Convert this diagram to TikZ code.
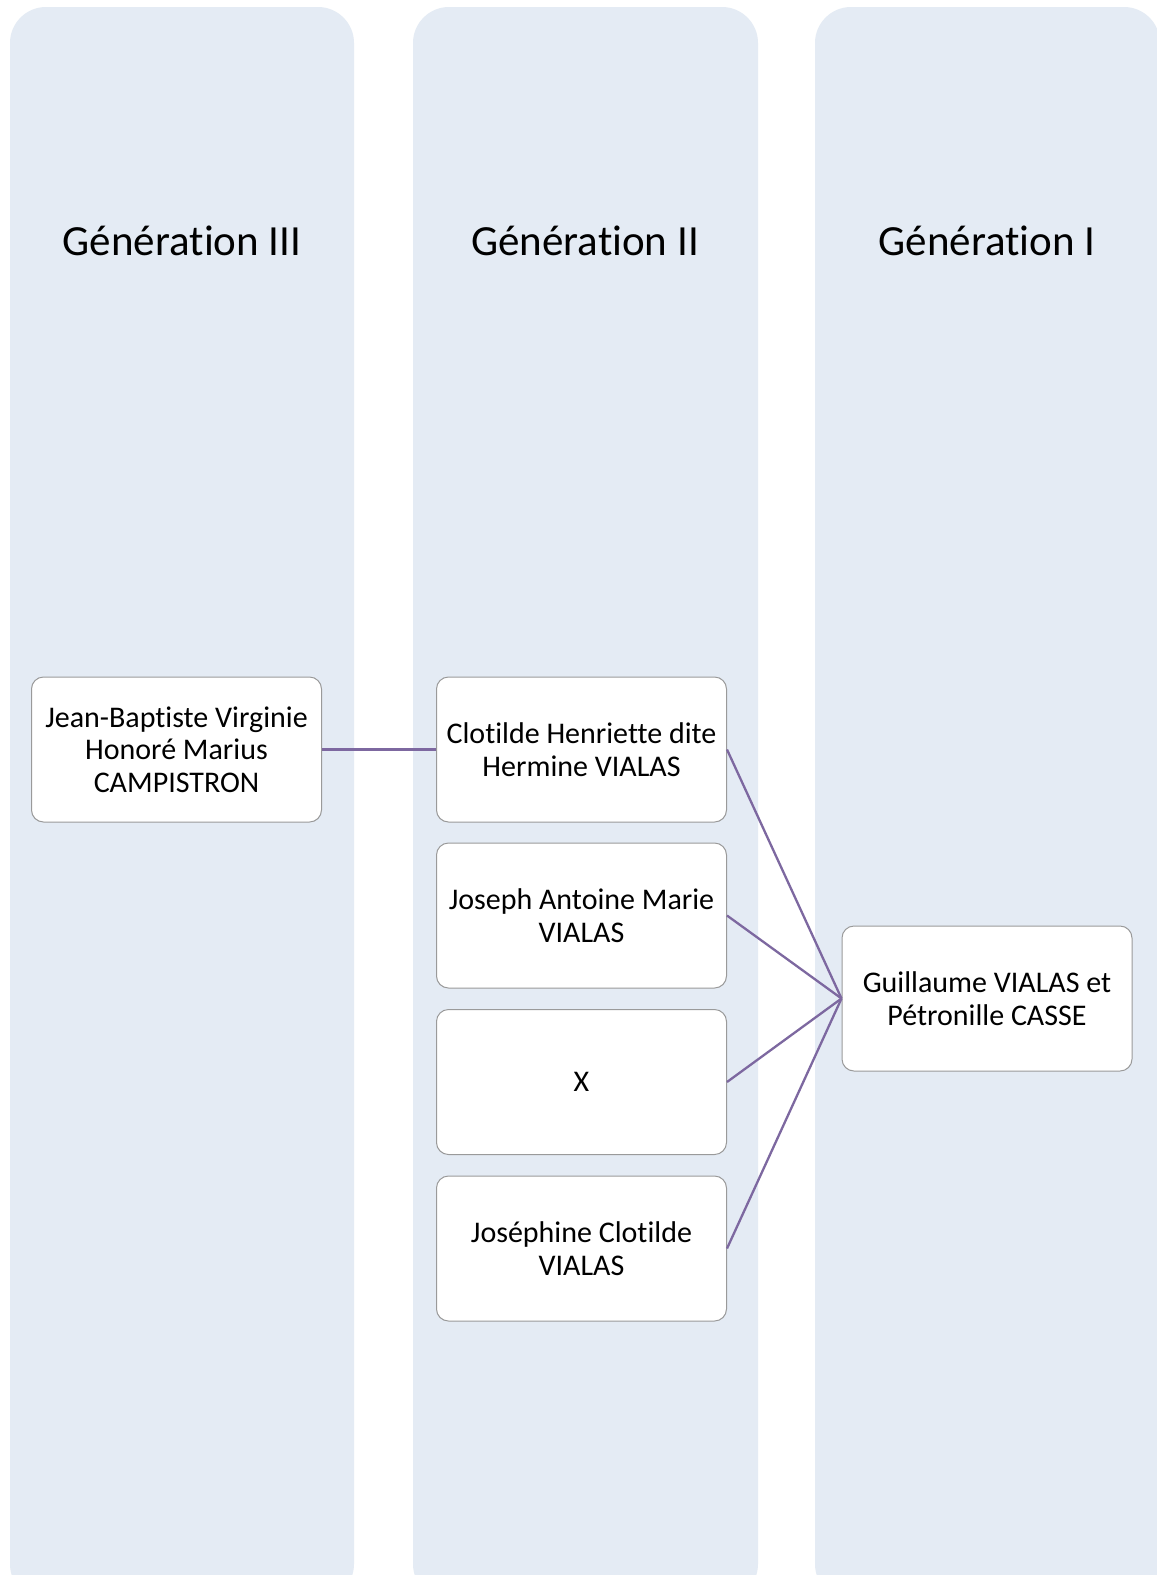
\documentclass[tikz,border=0pt]{standalone}
\usepackage{fontspec}
\setmainfont{Carlito}[Ligatures=NoCommon]
\definecolor{colfill}{HTML}{E4EBF4}
\definecolor{linkcol}{HTML}{7D68A0}
\definecolor{boxline}{HTML}{9A9A9A}
\tikzset{
  lane/.style={fill=colfill, draw=none, rounded corners=36pt},
  head/.style={font=\fontsize{43}{50}\selectfont, text=black, anchor=center},
  person/.style={draw=boxline, line width=1pt, fill=white, rounded corners=12pt,
    minimum width=290pt, minimum height=145pt, align=center,
    font=\fontsize{30}{32.5}\selectfont, inner sep=2pt},
  link/.style={draw=linkcol, line width=2.3pt}
}
\begin{document}
\begin{tikzpicture}[x=1pt,y=-1pt]
\useasboundingbox (0,0) rectangle (1157,1575);
\clip (0,0) rectangle (1157,1575);
\fill[white] (0,0) rectangle (1157,1575);
\path[lane] (10,7) rectangle (354,1600);
\path[lane] (413,7) rectangle (758,1600);
\path[lane] (815,7) rectangle (1160,1600);
\node[head] (h3) at (182,241) {Génération III};
\node[head] (h2) at (585,241) {Génération II};
\node[head] (h1) at (987,241) {Génération I};
\node[person] (a) at (176.5,749.5) {Jean-Baptiste Virginie\\Honoré Marius\\CAMPISTRON};
\node[person] (b1) at (581.5,749.5) {Clotilde Henriette dite\\Hermine VIALAS};
\node[person] (b2) at (581.5,915.5) {Joseph Antoine Marie\\VIALAS};
\node[person] (b3) at (581.5,1082) {X};
\node[person] (b4) at (581.5,1248.5) {Joséphine Clotilde\\VIALAS};
\node[person] (g) at (987,998.5) {Guillaume VIALAS et\\Pétronille CASSE};
\draw[link] (a.east) -- (b1.west);
\draw[link] (b1.east) -- (g.west);
\draw[link] (b2.east) -- (g.west);
\draw[link] (b3.east) -- (g.west);
\draw[link] (b4.east) -- (g.west);
\end{tikzpicture}
\end{document}
